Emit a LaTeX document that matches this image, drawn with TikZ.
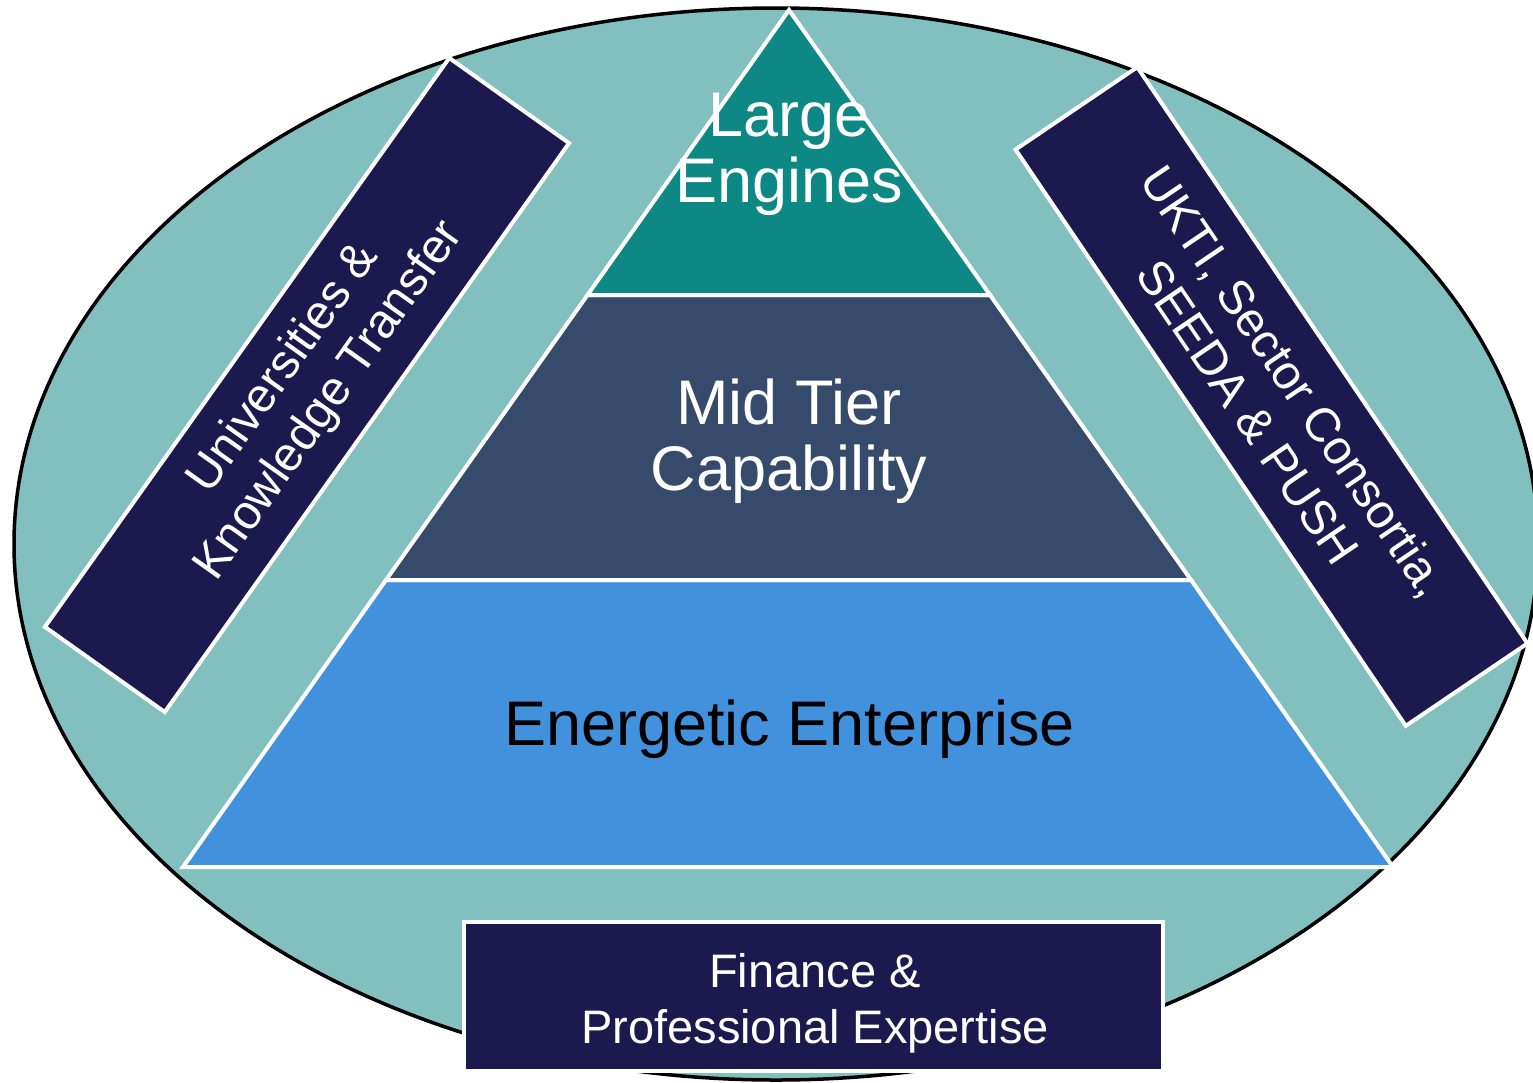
\documentclass[tikz,border=0pt]{standalone}
\usepackage{fontspec}
\setmainfont{Liberation Sans}
\usetikzlibrary{calc}
\definecolor{ellfill}{HTML}{82BFBF}
\definecolor{topc}{HTML}{0E8884}
\definecolor{midc}{HTML}{364A6B}
\definecolor{botc}{HTML}{4291DD}
\definecolor{navy}{HTML}{1B194E}
\tikzset{
  tier/.style={draw=white, line width=4pt, line join=miter},
  navybox/.style={draw=white, fill=navy, line width=4pt, inner sep=0pt, text=white, align=center, font=\fontsize{48}{56}\selectfont},
  bigtext/.style={inner sep=0pt, align=center, font=\fontsize{63}{66}\selectfont},
  boxtext/.style={inner sep=0pt, align=center, text=white, font=\fontsize{47}{56}\selectfont}
}
\begin{document}
\begin{tikzpicture}[x=1pt,y=-1pt]
\useasboundingbox (0,0) rectangle (1533,1082);
\clip (0,0) rectangle (1533,1082);
\fill[white] (0,0) rectangle (1533,1082);
% outer ellipse
\draw[fill=ellfill, line width=3.5pt] (776,544) ellipse [x radius=762, y radius=536];
% pyramid corners
\coordinate (A) at (789,10);
\coordinate (L1) at (587.5,295);
\coordinate (R1) at (990,295);
\coordinate (L2) at (386,580);
\coordinate (R2) at (1191,580);
\coordinate (L3) at (183,867);
\coordinate (R3) at (1393,867);
\filldraw[tier, fill=botc] (L2) -- (R2) -- (R3) -- (L3) -- cycle;
\filldraw[tier, fill=midc] (L1) -- (R1) -- (R2) -- (L2) -- cycle;
\filldraw[tier, fill=topc] (A) -- (R1) -- (L1) -- cycle;
% tier labels
\node[bigtext, text=white] (large) at (789,154) {Large\\Engines};
\node[bigtext, text=white] (mid) at (789,441.5) {Mid Tier\\Capability};
\node[bigtext, text=black, anchor=base] (energetic) at (789.5,745) {Energetic Enterprise};
% side boxes
\node[navybox, minimum width=698pt, minimum height=147pt, rotate=54.6] (univ) at (307,385) {Universities \&\\Knowledge Transfer};
\node[navybox, minimum width=696pt, minimum height=147pt, rotate=-55.9] (ukti) at (1271.5,396.5) {UKTI, Sector Consortia,\\SEEDA \& PUSH};
% bottom box
\node[navybox, minimum width=699pt, minimum height=149pt] (fin) at (813.5,996) {};
\node[boxtext] (fintext) at ($(fin.center)+(1.5,7)$) {Finance \&\\Professional Expertise};
\end{tikzpicture}
\end{document}
